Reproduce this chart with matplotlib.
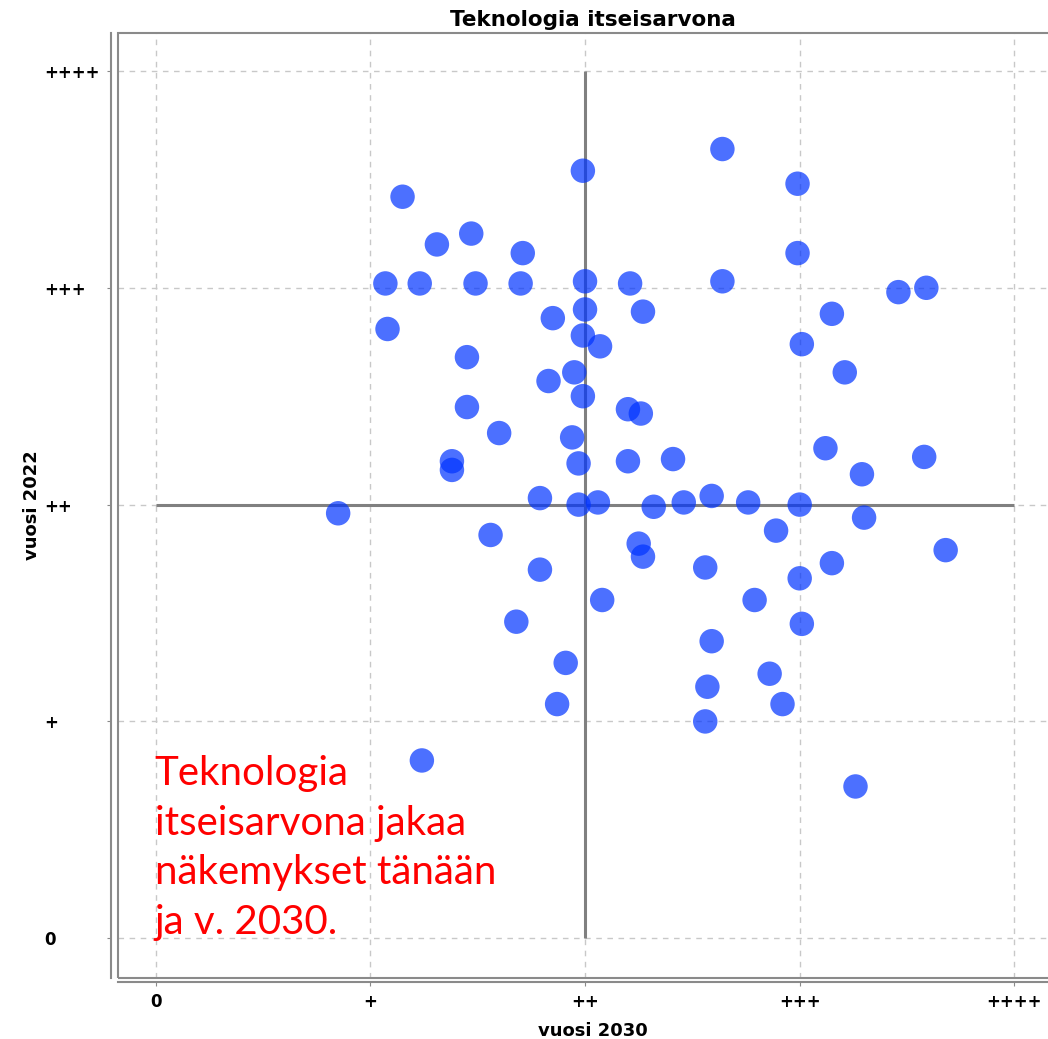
import matplotlib
matplotlib.use("Agg")
import matplotlib.pyplot as plt
from matplotlib.patches import Rectangle

# Tick positions and their labels (same scale on both axes).
levels = [0, 1, 2, 3, 4]
level_labels = ["0", "+", "++", "+++", "++++"]

# Answers: x = vuosi 2030, y = vuosi 2022.
x_2030 = [1.15, 1.99, 2.64, 2.99, 1.31, 1.47, 1.71, 2.99,
          1.07, 1.23, 1.49, 1.70, 2.00, 2.21, 2.64, 3.46, 3.59,
          1.08, 2.00, 1.85, 2.27, 3.15, 1.99, 2.07, 3.01,
          1.45, 1.95, 1.83, 3.21, 1.99, 1.45, 2.20, 2.26,
          1.60, 1.94, 3.12, 1.38, 1.38, 1.97, 2.20, 2.41, 3.29, 3.58,
          1.79, 1.97, 2.06, 2.32, 2.46, 2.59, 2.76, 3.00,
          0.85, 3.30, 2.89, 1.56, 2.25, 2.27, 3.68,
          1.79, 2.56, 3.15, 3.00, 2.08, 2.79, 1.68, 3.01,
          2.59, 1.91, 2.86, 2.57, 1.87, 2.92, 2.56, 1.24, 3.26]
y_2022 = [3.42, 3.54, 3.64, 3.48, 3.20, 3.25, 3.16, 3.16,
          3.02, 3.02, 3.02, 3.02, 3.03, 3.02, 3.03, 2.98, 3.00,
          2.81, 2.90, 2.86, 2.89, 2.88, 2.78, 2.73, 2.74,
          2.68, 2.61, 2.57, 2.61, 2.50, 2.45, 2.44, 2.42,
          2.33, 2.31, 2.26, 2.20, 2.16, 2.19, 2.20, 2.21, 2.14, 2.22,
          2.03, 2.00, 2.01, 1.99, 2.01, 2.04, 2.01, 2.00,
          1.96, 1.94, 1.88, 1.86, 1.82, 1.76, 1.79,
          1.70, 1.71, 1.73, 1.66, 1.56, 1.56, 1.46, 1.45,
          1.37, 1.27, 1.22, 1.16, 1.08, 1.08, 1.00, 0.82, 0.70]

note = "Teknologia\nitseisarvona jakaa\nnäkemykset tänään\nja v. 2030."

fig = plt.figure(figsize=(10.48, 10.39), dpi=100)
ax = fig.add_axes([0.1123, 0.0590, 0.9068, 0.9090])
ax.set_xlim(-0.177, 4.25)
ax.set_ylim(-0.182, 4.174)

# Dashed grid at each level.
ax.set_xticks(levels)
ax.set_yticks(levels)
ax.grid(True, color="#c8c8c8", linestyle=(0, (4, 4)), linewidth=1)
ax.set_axisbelow(True)

# Cross through the middle.
ax.hlines(2, 0, 4, color="#808080", linewidth=2.2, zorder=2)
ax.vlines(2, 0, 4, color="#808080", linewidth=2.2, zorder=2)

# The dots.
ax.scatter(x_2030, y_2022, s=310, color=(0.0, 0.2, 1.0), alpha=0.7,
           edgecolors="none", zorder=3)

# Inner frame plus axis lines set a bit outward.
ax.add_patch(Rectangle((0, 0), 1, 1, transform=ax.transAxes, fill=False,
                       edgecolor="#8a8a8a", linewidth=1.5, clip_on=False, zorder=4))
ax.spines["top"].set_visible(False)
ax.spines["right"].set_visible(False)
ax.spines["left"].set_position(("outward", 5))
ax.spines["bottom"].set_position(("outward", 3))
for side in ["left", "bottom"]:
    ax.spines[side].set_color("#8a8a8a")
    ax.spines[side].set_linewidth(1.5)

ax.set_xticklabels(level_labels, fontsize=12, fontweight="bold")
ax.set_yticklabels(level_labels, fontsize=12, fontweight="bold", ha="left")
ax.tick_params(axis="x", length=3, color="#8a8a8a", pad=5)
ax.tick_params(axis="y", length=3, color="#8a8a8a", pad=45)

ax.set_title("Teknologia itseisarvona", fontsize=15.5, fontweight="bold", pad=5)
ax.set_xlabel("vuosi 2030", fontsize=13, fontweight="bold", labelpad=8)
ax.set_ylabel("vuosi 2022", fontsize=13, fontweight="bold", labelpad=2)

ax.text(-0.005, -0.013, note, color="red", fontsize=29, family="Lato",
        ha="left", va="bottom", linespacing=1.42, zorder=5)

plt.savefig("out.png", dpi=100)
